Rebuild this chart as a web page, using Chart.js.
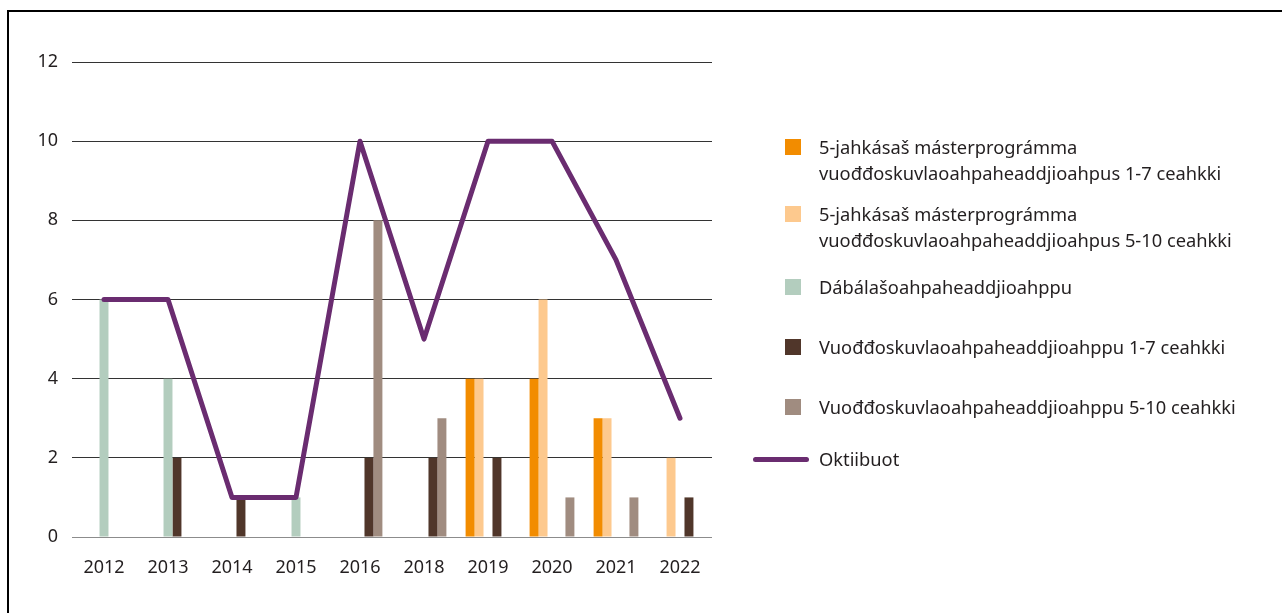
<!DOCTYPE html>
<html lang="se">
<head>
  <meta charset="UTF-8" />
  <title>Oktiibuot</title>
  <script src="https://cdn.jsdelivr.net/npm/chart.js"></script>
  <style>
    body { margin: 0; background: #fff; font-family: "Noto Sans", sans-serif; color: #231f20; }
    #wrap { position: absolute; left: 0; top: 0; width: 1282px; height: 613px; }
    #frame { position: absolute; left: 7px; top: 10px; width: 1290px; height: 620px;
      border-top: 2px solid #000; border-left: 2px solid #000; }
    #legend { position: absolute; left: 753px; top: 0; }
    .item { position: absolute; left: 0; white-space: nowrap; font-size: 18.3px; line-height: 25.5px; }
    .item .sw { position: absolute; left: 32px; width: 16px; height: 16px; }
    .item .ln { position: absolute; left: 0; width: 56px; height: 5px; border-radius: 3px; }
    .item .tx { position: absolute; left: 66px; }
  </style>
</head>
<body>
  <div id="frame"></div>
  <div id="wrap"><canvas id="chart"></canvas></div>
  <div id="legend"></div>

  <script>
    const years = ['2012', '2013', '2014', '2015', '2016', '2018', '2019', '2020', '2021', '2022'];
    const master17 = [0, 0, 0, 0, 0, 0, 4, 4, 3, 0];
    const master510 = [0, 0, 0, 0, 0, 0, 4, 6, 3, 2];
    const dabalas = [6, 4, 0, 1, 0, 0, 0, 0, 0, 0];
    const vuodd17 = [0, 2, 1, 0, 2, 2, 2, 0, 0, 1];
    const vuodd510 = [0, 0, 0, 0, 8, 3, 0, 1, 1, 0];
    const oktiibuot = [6, 6, 1, 1, 10, 5, 10, 10, 7, 3];
    const yTicks = [0, 2, 4, 6, 8, 10, 12];

    const barSeries = [
      { label: ['5-jahkásaš másterprográmma', 'vuođđoskuvlaoahpaheaddjioahpus 1-7 ceahkki'], data: master17, color: '#f28c00' },
      { label: ['5-jahkásaš másterprográmma', 'vuođđoskuvlaoahpaheaddjioahpus 5-10 ceahkki'], data: master510, color: '#fdc98e' },
      { label: ['Dábálašoahpaheaddjioahppu'], data: dabalas, color: '#b3cdbe' },
      { label: ['Vuođđoskuvlaoahpaheaddjioahppu 1-7 ceahkki'], data: vuodd17, color: '#50362a' },
      { label: ['Vuođđoskuvlaoahpaheaddjioahppu 5-10 ceahkki'], data: vuodd510, color: '#a08c80' }
    ];
    const lineColor = '#6a2c70';

    const datasets = barSeries.map(s => ({
      type: 'bar',
      label: s.label.join(' '),
      data: s.data,
      backgroundColor: s.color,
      borderWidth: 0,
      categoryPercentage: 0.7,
      barPercentage: 1.0
    }));
    datasets.push({
      type: 'line',
      label: 'Oktiibuot',
      data: oktiibuot,
      borderColor: lineColor,
      borderWidth: 5,
      borderCapStyle: 'round',
      borderJoinStyle: 'round',
      tension: 0,
      pointRadius: 0,
      fill: false,
      order: -1
    });

    const tickFont = { family: 'Noto Sans', size: 18 };

    new Chart(document.getElementById('chart'), {
      data: { labels: years, datasets: datasets },
      options: {
        responsive: true,
        maintainAspectRatio: false,
        animation: false,
        layout: { padding: { left: 0, right: 570, top: 62, bottom: 31 } },
        plugins: { legend: { display: false }, tooltip: { enabled: false } },
        scales: {
          x: {
            grid: { display: false, drawTicks: false },
            border: { display: false },
            ticks: { color: '#231f20', font: tickFont, padding: 20, maxRotation: 0 },
            afterFit: s => { s.height = 45; }
          },
          y: {
            min: 0,
            max: 12,
            afterBuildTicks: s => { s.ticks = yTicks.map(v => ({ value: v })); },
            grid: {
              drawTicks: false,
              color: c => (c.tick && c.tick.value === 0) ? '#8c8c8c' : '#333333',
              lineWidth: 1
            },
            border: { display: false },
            ticks: { color: '#231f20', font: tickFont, padding: 14 },
            afterFit: s => { s.width = 72; }
          }
        }
      }
    });

    // legend as html, positioned to match the reference
    const legend = document.getElementById('legend');
    const tops = [134, 201, 274, 334, 394];
    barSeries.forEach((s, i) => {
      const el = document.createElement('div');
      el.className = 'item';
      el.style.top = tops[i] + 'px';
      el.innerHTML = '<span class="sw" style="top:5px;background:' + s.color + '"></span>' +
        '<span class="tx">' + s.label.join('<br>') + '</span>';
      legend.appendChild(el);
    });
    const lineItem = document.createElement('div');
    lineItem.className = 'item';
    lineItem.style.top = '446px';
    lineItem.innerHTML = '<span class="ln" style="top:11px;background:' + lineColor + '"></span>' +
      '<span class="tx">Oktiibuot</span>';
    legend.appendChild(lineItem);
  </script>
</body>
</html>
